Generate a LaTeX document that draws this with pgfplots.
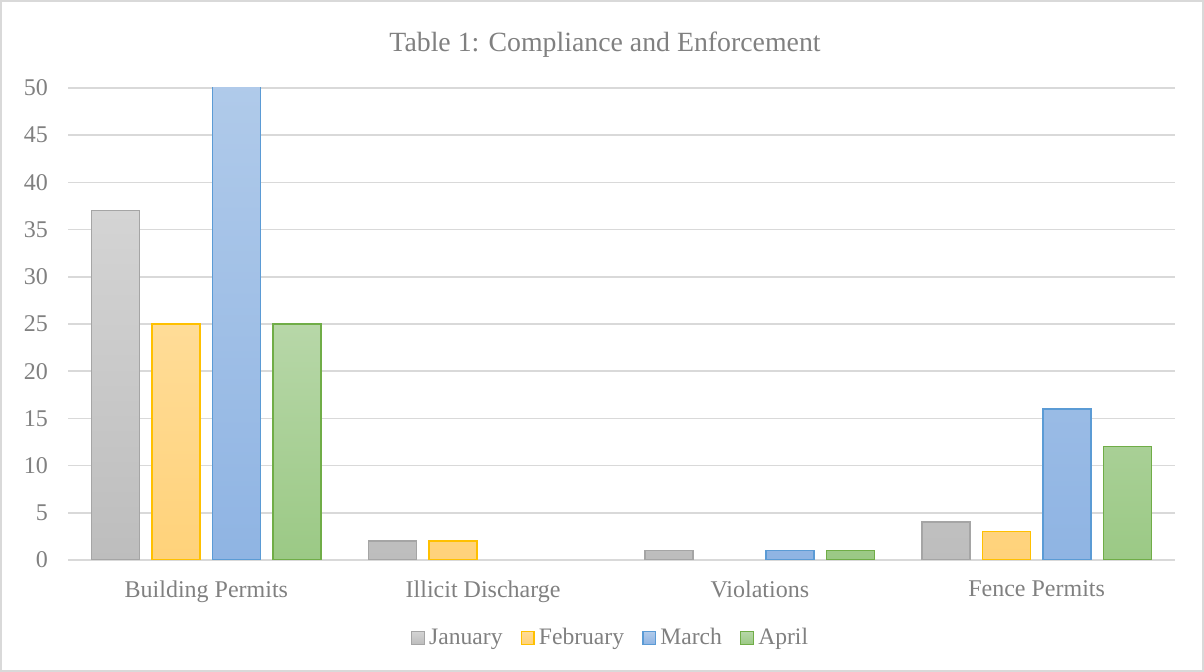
\documentclass[border=0pt]{standalone}
\usepackage{pgfplots}
\pgfplotsset{compat=1.18}
\usepackage{fontspec}
\setmainfont{Liberation Serif}
\definecolor{txt}{HTML}{808080}
\definecolor{gridc}{HTML}{D9D9D9}
\definecolor{framec}{HTML}{D9D9D9}
\definecolor{janT}{HTML}{D4D4D4}\definecolor{janB}{HTML}{BDBDBD}\definecolor{janL}{HTML}{A5A5A5}
\definecolor{febT}{HTML}{FFDC97}\definecolor{febB}{HTML}{FFD27A}\definecolor{febL}{HTML}{FFC000}
\definecolor{marT}{HTML}{B1CBEA}\definecolor{marB}{HTML}{8FB4E3}\definecolor{marL}{HTML}{5B9BD5}
\definecolor{aprT}{HTML}{B7D7A8}\definecolor{aprB}{HTML}{9BC985}\definecolor{aprL}{HTML}{70AD47}
\begin{document}
\begin{tikzpicture}
\useasboundingbox (0,0) rectangle (602pt,336pt);
\draw[framec, line width=0.7pt] (0.5pt,0.5pt) rectangle (601.5pt,335.5pt);
\node[txt, font=\fontsize{13.9}{16}\selectfont] at (302.5pt,313.8pt) {Table 1: Compliance and Enforcement};
\begin{axis}[
  at={(34pt,56pt)}, anchor=south west,
  scale only axis, width=553.5pt, height=236pt,
  xmin=-0.5, xmax=3.5, ymin=0, ymax=50,
  ytick={0,5,...,50},
  xtick={0,1,2,3},
  xticklabels={Building Permits, Illicit Discharge, Violations, Fence Permits},
  axis line style={draw=none},
  tick style={draw=none},
  xmajorgrids=false, ymajorgrids=true,
  y grid style={gridc, line width=0.75pt},
  ticklabel style={txt, font=\fontsize{12}{14}\selectfont},
  /pgf/number format/assume math mode=true,
  yticklabel style={xshift=-6.5pt},
  xticklabel style={yshift=-2.5pt},
  ybar=6.25pt, bar width=24pt,
  clip=true,
  legend columns=4,
  legend style={at={(0.5,-0.165)}, anchor=center, xshift=-5pt, draw=none, fill=none,
    font=\fontsize{11.8}{14}\selectfont, text=txt,
    /tikz/every even column/.append style={column sep=7pt}},
  legend image code/.code={\draw[#1, line width=0.75pt] (0pt,-3.2pt) rectangle (6.4pt,3.2pt);},
  legend cell align=left,
]
\addplot[draw=janL, line width=0.75pt, top color=janT, bottom color=janB] coordinates {(0,37) (1,2) (2,1) (3,4)};
\addplot[draw=febL, line width=0.75pt, top color=febT, bottom color=febB] coordinates {(0,25) (1,2) (3,3)};
\addplot[draw=marL, line width=0.75pt, top color=marT, bottom color=marB] coordinates {(0,52) (2,1) (3,16)};
\addplot[draw=aprL, line width=0.75pt, top color=aprT, bottom color=aprB] coordinates {(0,25) (2,1) (3,12)};
\legend{January, February, March, April}
\end{axis}
\end{tikzpicture}
\end{document}
